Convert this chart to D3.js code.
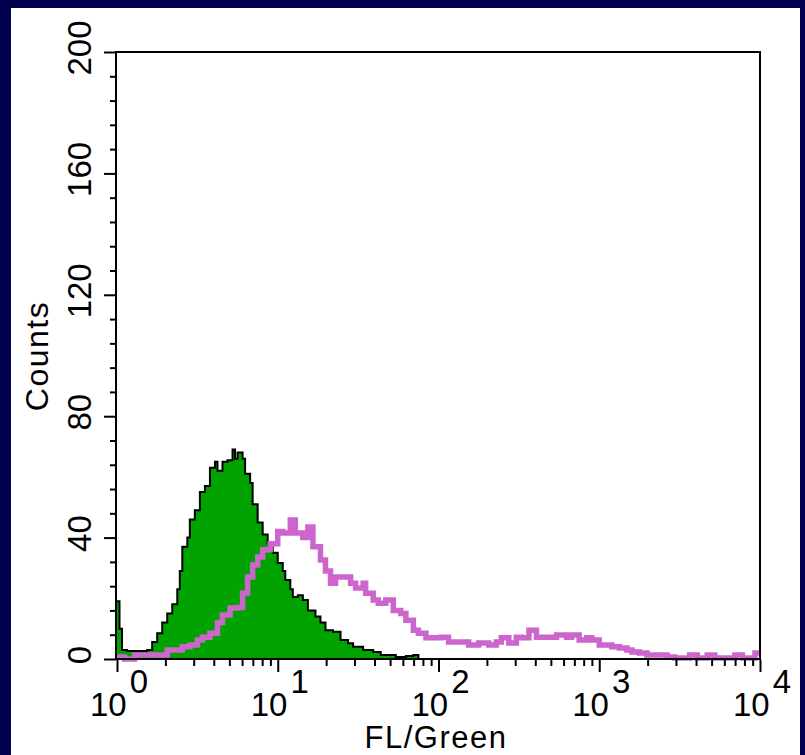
<!DOCTYPE html>
<html>
<head>
<meta charset="utf-8">
<script src="https://cdn.jsdelivr.net/npm/d3@7"></script>
<style>
  body { margin: 0; background: #00004f; }
  text { font-family: "Liberation Sans", Arial, sans-serif; fill: #000; }
</style>
</head>
<body>
<script>
// Histogram data: 256-channel log scale (64 channels per decade), counts
const greenChannels = [0, 1, 2, 4, 8, 12, 14, 16, 18, 20, 22, 24, 25, 26, 28, 29, 31, 33, 35, 37, 39, 40, 42, 44, 46, 47, 48, 50, 51, 53, 54, 56, 58, 60, 62, 64, 66, 67, 69, 70, 72, 74, 76, 79, 81, 83, 86, 89, 92, 94, 98, 102, 105, 109, 111, 115, 118, 120, 256];
const greenCounts = [19, 10, 3, 2.6, 2.6, 3, 5.6, 8.5, 12, 15, 18, 23, 29, 37, 40, 46, 49, 55, 57, 63, 65, 62, 65, 65.5, 69, 66, 68, 66, 61, 58, 51, 45, 41, 38, 35, 31.6, 29, 26, 23, 20.4, 21, 19.4, 16, 14, 12, 9.5, 9, 6.3, 5.2, 4, 3, 2.3, 1.3, 1.3, 0.7, 1, 1.3, 0, 0];

const pinkChannels = [0, 3, 7, 13, 17, 20, 24, 26, 29, 32, 34, 37, 40, 42, 45, 48, 50, 52, 54, 56, 58, 61, 64, 66, 69, 71, 74, 76, 78, 81, 83, 85, 87, 90, 93, 95, 98, 99, 102, 104, 107, 110, 113, 115, 118, 120, 123, 125, 129, 132, 136, 140, 144, 148, 151, 153, 156, 159, 161, 164, 167, 171, 175, 179, 181, 184, 187, 189, 192, 195, 197, 200, 203, 205, 208, 211, 215, 219, 222, 225, 228, 231, 235, 238, 246, 249, 254, 256];
const pinkCounts = [0.7, 0, 1.3, 1.3, 1.3, 3, 3, 4, 4.6, 6.3, 7.2, 8.5, 12, 14.5, 16.8, 17, 21.7, 27, 31, 33.6, 36, 38, 42, 41.5, 45.8, 41.5, 40, 43.5, 37, 32.6, 29, 25, 27, 27, 25, 23.4, 25, 21.7, 19.4, 18.4, 19.4, 16, 15, 12.8, 9.5, 8.5, 7, 7, 7.2, 5.6, 5.6, 4.6, 5.3, 4.6, 5.6, 7, 5.3, 7.2, 7, 9.5, 7.2, 7.2, 7.9, 7.2, 7.9, 6.3, 7, 6.3, 4.6, 4.6, 4, 3.6, 3, 2.3, 2, 1.3, 1.3, 0.7, 0.3, 0.3, 1.3, 0.3, 1.3, 0.3, 1.3, 0.3, 2, 2];

const xMajorTicks = [1, 10, 100, 1000, 10000];
const xExponents = ['0', '1', '2', '3', '4'];
const yMajorTicks = [0, 40, 80, 120, 160, 200];

const W = 805, H = 755;
const plotLeft = 116, plotRight = 760, plotTop = 52, plotBottom = 659;

const svg = d3.select('body').append('svg')
  .attr('width', W)
  .attr('height', H);

// navy border + white panel
svg.append('rect').attr('width', W).attr('height', H).attr('fill', '#00004f');
svg.append('rect')
  .attr('x', 11).attr('y', 8)
  .attr('width', 800 - 11).attr('height', H - 8)
  .attr('fill', '#fff');

const x = d3.scaleLog().domain([1, 10000]).range([plotLeft + 1, plotRight]);
const y = d3.scaleLinear().domain([0, 200]).range([plotBottom, plotTop]);

const chToFl = ch => Math.pow(10, ch / 64);

const green = greenChannels.map((c, i) => ({ fl: chToFl(c), n: greenCounts[i] }));
const pink = pinkChannels.map((c, i) => ({ fl: chToFl(c), n: pinkCounts[i] }));

const plot = svg.append('g');

// filled histogram
plot.append('path')
  .datum(green)
  .attr('fill', '#00a300')
  .attr('d', d3.area()
    .curve(d3.curveStepAfter)
    .x(d => x(d.fl))
    .y0(y(0))
    .y1(d => y(d.n)));

plot.append('path')
  .datum(green)
  .attr('fill', 'none')
  .attr('stroke', '#000')
  .attr('stroke-width', 2)
  .attr('d', d3.line()
    .curve(d3.curveStepAfter)
    .x(d => x(d.fl))
    .y(d => y(d.n)));

// overlay histogram
plot.append('path')
  .datum(pink)
  .attr('fill', 'none')
  .attr('stroke', '#cc66cc')
  .attr('stroke-width', 5.5)
  .attr('d', d3.line()
    .curve(d3.curveStepAfter)
    .x(d => x(d.fl))
    .y(d => y(d.n)));

// frame
svg.append('rect')
  .attr('x', plotLeft).attr('y', plotTop)
  .attr('width', plotRight - plotLeft).attr('height', plotBottom - plotTop)
  .attr('fill', 'none')
  .attr('stroke', '#000')
  .attr('stroke-width', 2);

// x axis ticks
const xMinor = [];
for (let d = 1; d < 10000; d *= 10) {
  for (let k = 2; k <= 9; k++) xMinor.push(d * k);
}

svg.append('g')
  .attr('transform', `translate(0, ${plotBottom + 1})`)
  .call(d3.axisBottom(x).tickValues(xMinor).tickSize(6).tickFormat(''));
svg.append('g')
  .attr('transform', `translate(0, ${plotBottom + 1})`)
  .call(d3.axisBottom(x).tickValues(xMajorTicks).tickSize(12).tickFormat(''));

// y axis ticks
const yMinor = d3.range(0, 201, 8).filter(v => v % 40 !== 0);
svg.append('g')
  .attr('transform', `translate(${plotLeft}, 0)`)
  .call(d3.axisLeft(y).tickValues(yMinor).tickSize(6).tickFormat(''));
svg.append('g')
  .attr('transform', `translate(${plotLeft}, 0)`)
  .call(d3.axisLeft(y).tickValues(yMajorTicks).tickSize(12).tickFormat(''));

svg.selectAll('.domain').remove();
svg.selectAll('.tick line').attr('stroke', '#000').attr('stroke-width', 2);

// x tick labels, 10 with superscript exponent
const xLabels = svg.append('g');
xMajorTicks.forEach((v, i) => {
  const t = xLabels.append('text')
    .attr('x', x(v) + 2)
    .attr('y', 716)
    .attr('text-anchor', 'middle')
    .style('font-size', '33px');
  t.append('tspan').text('10');
  t.append('tspan').attr('dx', 3).attr('dy', -23).text(xExponents[i]);
});

// y tick labels, rotated
svg.append('g').selectAll('text')
  .data(yMajorTicks)
  .join('text')
  .attr('transform', d => `translate(91, ${y(d) - 4}) rotate(-90)`)
  .attr('text-anchor', 'middle')
  .style('font-size', '33px')
  .text(d => d);

// axis titles
svg.append('text')
  .attr('x', 436)
  .attr('y', 748)
  .attr('text-anchor', 'middle')
  .style('font-size', '31px')
  .style('letter-spacing', '1.5px')
  .text('FL/Green');

svg.append('text')
  .attr('transform', `translate(48, 356) rotate(-90)`)
  .attr('text-anchor', 'middle')
  .style('font-size', '32px')
  .style('letter-spacing', '1.5px')
  .text('Counts');
</script>
</body>
</html>
